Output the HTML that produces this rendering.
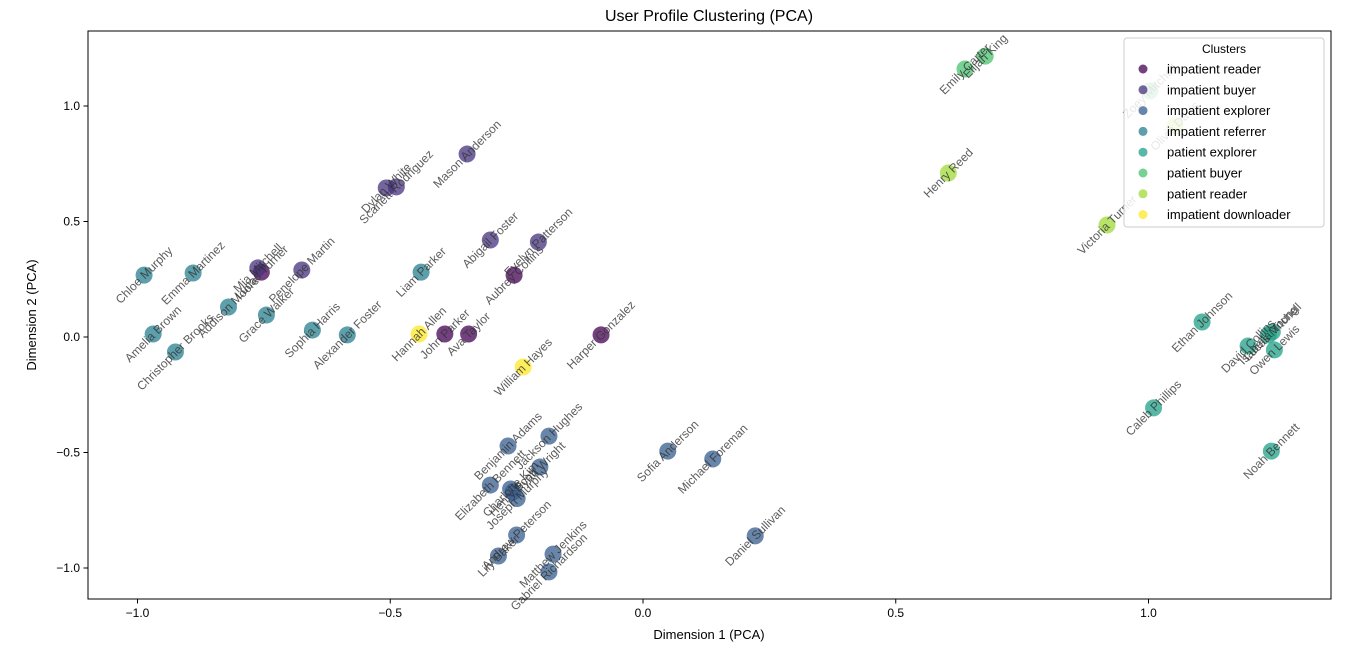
<!DOCTYPE html>
<html><head><meta charset="utf-8">
<style>
body{margin:0;background:#fff;}
svg text{font-family:"Liberation Sans","DejaVu Sans",sans-serif;}
</style></head>
<body>
<svg id="chart" width="1348" height="646" xmlns="http://www.w3.org/2000/svg">
<rect width="1348" height="646" fill="#fff"/>
<text x="709" y="21" font-size="16" text-anchor="middle" fill="#000">User Profile Clustering (PCA)</text>
<g id="marks"></g>
<rect x="88" y="31" width="1243" height="568" fill="none" stroke="#000" stroke-width="1"/>
<g id="axes"></g>
<text x="709" y="639" font-size="13" text-anchor="middle">Dimension 1 (PCA)</text>
<text transform="translate(36,315) rotate(-90)" font-size="13" text-anchor="middle">Dimension 2 (PCA)</text>
<g id="legend"></g>
</svg>
<script>
const clusters=["impatient reader","impatient buyer","impatient explorer","impatient referrer","patient explorer","patient buyer","patient reader","impatient downloader"];
const clusterColors=["#440154","#46327e","#365c8d","#277f8e","#1fa187","#4ac16d","#a0da39","#fde725"];
const names=["Aubrey Collins","John Parker","Ava Taylor","Harper Gonzalez","Lucas Turner",
"Mason Anderson","Dylan White","Scarlett Rodriguez","Abigail Foster","Evelyn Patterson","Penelope Martin","Mia Mitchell",
"Benjamin Adams","Jackson Hughes","Ryan Wright","Elizabeth Bennett","Charlotte Kim","Henry Scott","Joseph Murphy","Andrew Peterson","Lily Baker","Matthew Jenkins","Gabriel Richardson","Sofia Anderson","Michael Foreman","Daniel Sullivan",
"Chloe Murphy","Emma Martinez","Amelia Brown","Christopher Brooks","Addison Moore","Grace Walker","Sophia Harris","Alexander Foster","Liam Parker",
"Ethan Johnson","David Collins","Isabella Young","Lucas Mitchell","Owen Lewis","Caleb Phillips","Noah Bennett",
"Emily Carter","Elijah King","Zoey Mitchell",
"Henry Reed","Victoria Turner","Olivia Davis",
"Hannah Allen","William Hayes"];
const clusterIdx=[0,0,0,0,0, 1,1,1,1,1,1,1, 2,2,2,2,2,2,2,2,2,2,2,2,2,2, 3,3,3,3,3,3,3,3,3, 4,4,4,4,4,4,4, 5,5,5, 6,6,6, 7,7];
const dim1=[-0.255,-0.392,-0.345,-0.083,-0.755,
-0.348,-0.508,-0.488,-0.302,-0.207,-0.675,-0.762,
-0.267,-0.186,-0.204,-0.302,-0.262,-0.257,-0.249,-0.250,-0.286,-0.178,-0.186,0.049,0.138,0.222,
-0.987,-0.890,-0.969,-0.925,-0.820,-0.745,-0.654,-0.585,-0.439,
1.106,1.197,1.237,1.245,1.249,1.010,1.243,
0.637,0.677,1.003,
0.604,0.918,1.052,
-0.443,-0.237];
const dim2=[0.268,0.013,0.013,0.009,0.281,
0.792,0.645,0.650,0.420,0.411,0.290,0.299,
-0.472,-0.429,-0.563,-0.641,-0.658,-0.671,-0.699,-0.857,-0.948,-0.940,-1.017,-0.494,-0.528,-0.861,
0.268,0.277,0.013,-0.065,0.130,0.095,0.030,0.009,0.281,
0.065,-0.039,0.009,0.022,-0.056,-0.307,-0.494,
1.160,1.216,1.065,
0.710,0.485,0.913,
0.013,-0.130];
const xTicks=[-1.0,-0.5,0.0,0.5,1.0];
const yTicks=[-1.0,-0.5,0.0,0.5,1.0];
const xTickLabels=["−1.0","−0.5","0.0","0.5","1.0"];
const yTickLabels=["−1.0","−0.5","0.0","0.5","1.0"];

const NS="http://www.w3.org/2000/svg";
function xs(v){return 643+v*505.5;}
function ys(v){return 337-v*231;}
function mk(tag,attrs){const e=document.createElementNS(NS,tag);for(const k in attrs)e.setAttribute(k,attrs[k]);return e;}
const marks=document.getElementById('marks');
for(let i=0;i<names.length;i++){
  const c=mk('circle',{cx:xs(dim1[i]),cy:ys(dim2[i]),r:8.5,fill:clusterColors[clusterIdx[i]],'fill-opacity':0.75});
  
  
  marks.appendChild(c);
}
for(let i=0;i<names.length;i++){
  const x=xs(dim1[i]),y=ys(dim2[i]);
  const t=mk('text',{x:x,y:y+4,'font-size':12,'text-anchor':'middle',fill:'#333','fill-opacity':0.8,transform:`rotate(-45 ${x} ${y})`});
  t.textContent=names[i];
  
  
  marks.appendChild(t);
}
const axes=document.getElementById('axes');
xTicks.forEach((v,i)=>{
  const x=xs(v);
  const l=mk('line',{x1:x,x2:x,y1:599,y2:603.5,stroke:'#000'});
  
  
  axes.appendChild(l);
  const t=mk('text',{x:x,y:617,'font-size':12,'text-anchor':'middle'});
  t.textContent=xTickLabels[i];
  
  
  axes.appendChild(t);
});
yTicks.forEach((v,i)=>{
  const y=ys(v);
  const l=mk('line',{x1:83.5,x2:88,y1:y,y2:y,stroke:'#000'});
  
  
  axes.appendChild(l);
  const t=mk('text',{x:80,y:y+4,'font-size':12,'text-anchor':'end'});
  t.textContent=yTickLabels[i];
  
  
  axes.appendChild(t);
});
const lg=document.getElementById('legend');
const box=mk('rect',{x:1124,y:38,width:200,height:189,rx:3,fill:'#fff','fill-opacity':0.85,stroke:'#ccc'});


lg.appendChild(box);
const tt=mk('text',{x:1224,y:53,'font-size':12,'text-anchor':'middle'});
tt.textContent='Clusters';


lg.appendChild(tt);
clusters.forEach((c,i)=>{
  const y=69+i*20.8;
  const g=mk('g',{});
  
  
  g.appendChild(mk('circle',{cx:1143,cy:y,r:4.5,fill:clusterColors[i],'fill-opacity':0.75}));
  const t=mk('text',{x:1167,y:y+4.5,'font-size':13});
  t.textContent=c;
  g.appendChild(t);
  lg.appendChild(g);
});
</script>
</body></html>
